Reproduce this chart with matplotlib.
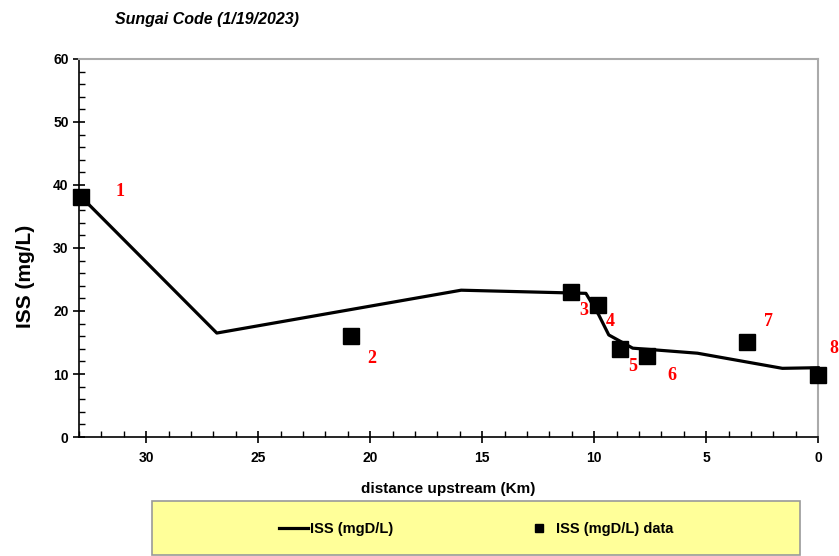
import matplotlib.pyplot as plt
from matplotlib.patches import Rectangle
from matplotlib.ticker import MultipleLocator

plt.rcParams['font.family'] = ['Liberation Sans', 'DejaVu Sans']

# model profile (distance upstream in km, ISS in mg/L)
model_km = [32.9, 26.85, 15.94, 10.37, 9.8, 9.35, 8.28, 5.39, 1.6, 0.0]
model_iss = [38.1, 16.5, 23.3, 22.8, 19.4, 16.2, 14.1, 13.3, 10.9, 11.0]

# sampled stations
data_km = [32.9, 20.84, 11.04, 9.84, 8.86, 7.66, 3.16, 0.0]
data_iss = [38.1, 16.0, 23.0, 21.0, 14.0, 12.9, 15.0, 9.8]
station_labels = ['1', '2', '3', '4', '5', '6', '7', '8']

fig = plt.figure(figsize=(8.39, 5.56), dpi=100)
ax = fig.add_axes([0.0942, 0.214, 0.881, 0.68])

line, = ax.plot(model_km, model_iss, color='black', lw=2.3, zorder=3,
                label='ISS (mgD/L)', clip_on=False)
pts, = ax.plot(data_km, data_iss, 's', color='black', ms=11.5, zorder=4,
               linestyle='none', label='ISS (mgD/L) data', clip_on=False)

# label offsets in points
offs = [(28, 4), (15, -16), (9, -13), (9, -12), (9, -13), (18, -14), (15, 15), (11, 19)]
for x, y, t, o in zip(data_km, data_iss, station_labels, offs):
    ax.annotate(t, (x, y), xytext=o, textcoords='offset points',
                ha='center', va='center', color='red', fontsize=13,
                fontweight='bold', family='Liberation Serif')

ax.set_xlim(33, 0)
ax.set_ylim(0, 60)
ax.xaxis.set_major_locator(MultipleLocator(5))
ax.xaxis.set_minor_locator(MultipleLocator(1))
ax.yaxis.set_major_locator(MultipleLocator(10))
ax.yaxis.set_minor_locator(MultipleLocator(2))
ax.tick_params(which='major', direction='inout', length=8, width=1.2,
               labelsize=10)
ax.tick_params(which='minor', direction='in', length=4, width=1)
for lab in ax.get_xticklabels() + ax.get_yticklabels():
    lab.set_fontweight('bold')
ax.tick_params(axis='x', pad=6)

for s in ['top', 'right']:
    ax.spines[s].set_color('#aaaaaa')
    ax.spines[s].set_linewidth(1.5)
for s in ['left', 'bottom']:
    ax.spines[s].set_color('black')
    ax.spines[s].set_linewidth(1.2)

ax.set_xlabel('distance upstream (Km)', fontsize=11, fontweight='bold', labelpad=12)
ax.set_ylabel('ISS (mg/L)', fontsize=15, fontweight='bold')
ax.yaxis.set_label_coords(-0.059, 0.426)

fig.text(0.137, 0.965, 'Sungai Code (1/19/2023)', fontsize=11.5, fontweight='bold',
         style='italic', va='center', ha='left')

# yellow legend panel
fig.patches.append(Rectangle((152 / 839, 1 / 556), 648 / 839, 54 / 556,
                             transform=fig.transFigure, facecolor='#ffff99',
                             edgecolor='#999999', lw=1.2, zorder=0))
leg = fig.legend(handles=[line, pts], loc='center', ncol=2,
                 bbox_to_anchor=(476 / 839, 1 - 529 / 556),
                 frameon=False, fontsize=10.5, handlelength=2.0, markerscale=0.5,
                 handletextpad=0.15, columnspacing=9.0)
for t in leg.get_texts():
    t.set_fontweight('bold')

fig.savefig('out.png', dpi=100)
